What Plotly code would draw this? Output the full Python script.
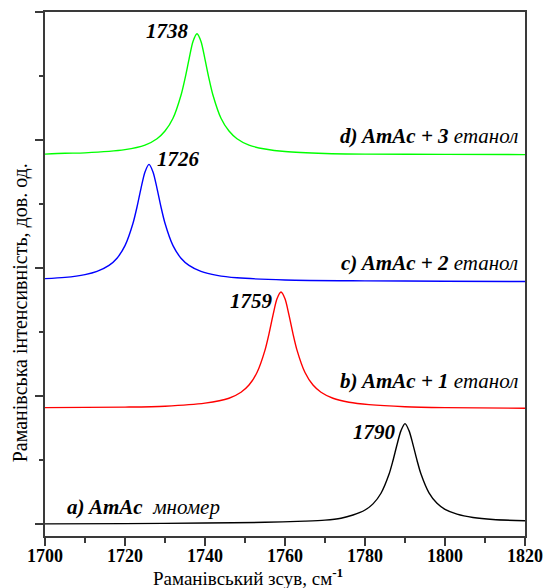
import plotly.graph_objects as go

# Raman shift (cm^-1) and intensity (arb. units, stacked with offsets)
x_a = [1700, 1720, 1740, 1755, 1765, 1770, 1774, 1777, 1780, 1782, 1784, 1786, 1787, 1788, 1789,
       1790, 1791, 1792, 1793, 1794, 1796, 1798, 1800, 1803, 1807, 1812, 1820]
y_a = [0.002, 0.004, 0.008, 0.014, 0.023, 0.031, 0.046, 0.071, 0.110, 0.158, 0.241, 0.389, 0.497,
       0.620, 0.730, 0.785, 0.730, 0.621, 0.499, 0.391, 0.244, 0.162, 0.115, 0.078, 0.052, 0.036, 0.026]

x_b = [1700, 1720, 1730, 1740, 1746, 1749, 1751, 1753, 1755, 1756, 1757, 1758, 1759, 1760, 1761,
       1762, 1763, 1765, 1767, 1769, 1772, 1776, 1781, 1790, 1800, 1820]
y_b = [0.910, 0.914, 0.921, 0.945, 0.983, 1.030, 1.086, 1.184, 1.359, 1.486, 1.632, 1.760, 1.813,
       1.760, 1.632, 1.486, 1.359, 1.184, 1.086, 1.030, 0.983, 0.952, 0.933, 0.917, 0.910, 0.905]

x_c = [1700, 1705, 1710, 1713, 1716, 1718, 1720, 1722, 1723, 1724, 1725, 1726, 1727, 1728, 1729,
       1730, 1732, 1734, 1736, 1739, 1743, 1748, 1760, 1780, 1800, 1820]
y_c = [1.917, 1.927, 1.949, 1.974, 2.021, 2.077, 2.175, 2.350, 2.477, 2.623, 2.751, 2.810, 2.751,
       2.623, 2.477, 2.350, 2.175, 2.077, 2.021, 1.974, 1.943, 1.924, 1.907, 1.900, 1.897, 1.895]

x_d = [1700, 1705, 1710, 1720, 1725, 1728, 1730, 1732, 1734, 1735, 1736, 1737, 1738, 1739, 1740,
       1741, 1742, 1744, 1746, 1748, 1751, 1755, 1760, 1770, 1780, 1800, 1820]
y_d = [2.890, 2.897, 2.900, 2.925, 2.960, 3.010, 3.070, 3.170, 3.350, 3.480, 3.630, 3.770, 3.830,
       3.770, 3.630, 3.480, 3.350, 3.170, 3.070, 3.010, 2.960, 2.930, 2.910, 2.895, 2.890, 2.888, 2.886]

colors = ["#000000", "#ff0000", "#0000ff", "#00ff00"]
peak_labels = ["1790", "1759", "1726", "1738"]
peak_label_pos = [(1782.3, 0.717), (1751.5, 1.746), (1733.3, 2.85), (1730.5, 3.85)]
series_labels = ["<b><i>a) AmAc</i></b>  <i>мномер</i>",
                 "<b><i>b) AmAc + 1</i></b> <i>етанол</i>",
                 "<b><i>c) AmAc + 2</i></b> <i>етанол</i>",
                 "<b><i>d) AmAc + 3</i></b> <i>етанол</i>"]
series_label_pos = [(1705.0, 0.13, "left"), (1818.8, 1.115, "right"),
                    (1818.8, 2.04, "right"), (1818.8, 3.03, "right")]
x_ticks = [1700, 1720, 1740, 1760, 1780, 1800, 1820]

FONT = "Times New Roman, Liberation Serif, DejaVu Serif, serif"
AX = "#3a3a3a"

fig = go.Figure()
for xs, ys, c in zip([x_a, x_b, x_c, x_d], [y_a, y_b, y_c, y_d], colors):
    fig.add_trace(go.Scatter(x=xs, y=ys, mode="lines",
                             line=dict(color=c, width=1.4, shape="spline", smoothing=0.8),
                             showlegend=False, hoverinfo="skip"))

ann = []
for t, (px, py) in zip(peak_labels, peak_label_pos):
    ann.append(dict(x=px, y=py, xref="x", yref="y", text="<b><i>%s</i></b>" % t, showarrow=False,
                    xanchor="center", yanchor="middle",
                    font=dict(family=FONT, size=21, color="#000000")))
for t, (px, py, anc) in zip(series_labels, series_label_pos):
    ann.append(dict(x=px, y=py, xref="x", yref="y", text=t, showarrow=False,
                    xanchor=anc, yanchor="middle",
                    font=dict(family=FONT, size=21, color="#000000")))
ann.append(dict(x=0.423, y=-0.078, xref="paper", yref="paper",
                text="Раманівський зсув, см<sup><b>-1</b></sup>", showarrow=False,
                xanchor="center", yanchor="middle",
                font=dict(family=FONT, size=19, color="#000000")))
ann.append(dict(x=-0.052, y=0.425, xref="paper", yref="paper",
                text="Раманівська інтенсивність, дов. од.", showarrow=False, textangle=-90,
                xanchor="center", yanchor="middle",
                font=dict(family=FONT, size=20, color="#000000")))

fig.update_layout(
    width=543, height=588,
    margin=dict(l=45, r=18, t=12, b=52, autoexpand=False),
    paper_bgcolor="white", plot_bgcolor="white",
    annotations=ann,
    xaxis=dict(range=[1700, 1820], tickvals=x_ticks, ticktext=[str(v) for v in x_ticks],
               automargin=False, ticklabelstandoff=-6,
               showgrid=False, zeroline=False, showline=True, linecolor=AX, linewidth=2,
               mirror=True, ticks="outside", ticklen=8, tickwidth=1.5, tickcolor=AX,
               tickfont=dict(family=FONT, size=18, color="#000000", weight="bold"),
               minor=dict(dtick=10, tick0=1700, ticks="outside", ticklen=5, tickwidth=1.5,
                          tickcolor=AX, showgrid=False)),
    yaxis=dict(range=[-0.093, 4.0], dtick=1, tick0=0, showticklabels=False, automargin=False,
               showgrid=False, zeroline=False, showline=True, linecolor=AX, linewidth=2,
               mirror=True, ticks="outside", ticklen=8, tickwidth=1.5, tickcolor=AX,
               minor=dict(dtick=0.5, tick0=0, ticks="outside", ticklen=4, tickwidth=1.5,
                          tickcolor=AX, showgrid=False)),
)

fig.write_html("out.html")
